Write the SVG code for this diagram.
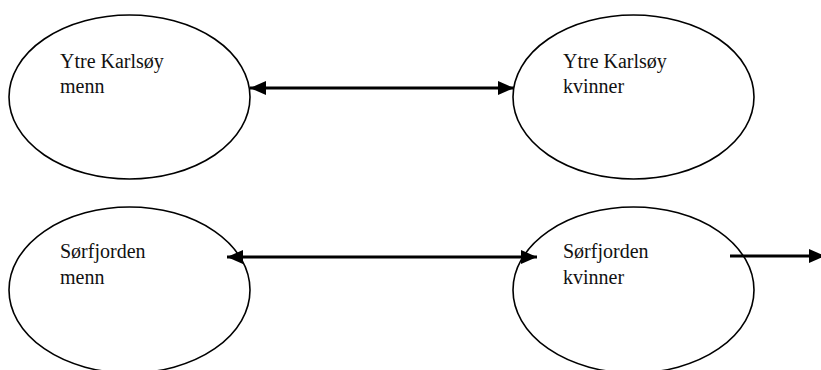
<svg xmlns="http://www.w3.org/2000/svg" width="821" height="370" viewBox="0 0 821 370">
<style>
.node{fill:#fff;stroke:#000;stroke-width:1.6}
.lbl{font-family:"Liberation Serif","Times New Roman",serif;font-size:20px;fill:#111}
.conn{stroke:#000;stroke-width:3.2;fill:none}
</style>
<defs>
<marker id="ah" viewBox="0 0 16 14" refX="16" refY="7" markerWidth="16" markerHeight="14" markerUnits="userSpaceOnUse" orient="auto-start-reverse">
<path d="M0,0 L16,7 L0,14 Z" fill="#000"/>
</marker>
</defs>
<rect width="821" height="370" fill="#fff"/>
<g id="n-ytre-menn">
<ellipse class="node" cx="129.5" cy="97" rx="120.5" ry="82"/>
<text class="lbl" x="60" y="68">Ytre Karlsøy</text>
<text class="lbl" x="60" y="93">menn</text>
</g>
<g id="n-ytre-kvinner">
<ellipse class="node" cx="633.5" cy="97" rx="120.5" ry="82"/>
<text class="lbl" x="563" y="68">Ytre Karlsøy</text>
<text class="lbl" x="563" y="93">kvinner</text>
</g>
<g id="n-sorf-menn">
<ellipse class="node" cx="129.5" cy="290" rx="120.5" ry="83"/>
<text class="lbl" x="60" y="258">Sørfjorden</text>
<text class="lbl" x="60" y="284">menn</text>
</g>
<g id="n-sorf-kvinner">
<ellipse class="node" cx="633.5" cy="290" rx="120.5" ry="83"/>
<text class="lbl" x="563" y="258">Sørfjorden</text>
<text class="lbl" x="563" y="284">kvinner</text>
</g>
<g id="connectors">
<line class="conn" x1="250" y1="88" x2="514" y2="88" marker-start="url(#ah)" marker-end="url(#ah)"/>
<line class="conn" x1="227" y1="257" x2="537" y2="257" marker-start="url(#ah)" marker-end="url(#ah)"/>
<line class="conn" x1="730" y1="256" x2="825" y2="256" marker-end="url(#ah)"/>
</g>
</svg>
